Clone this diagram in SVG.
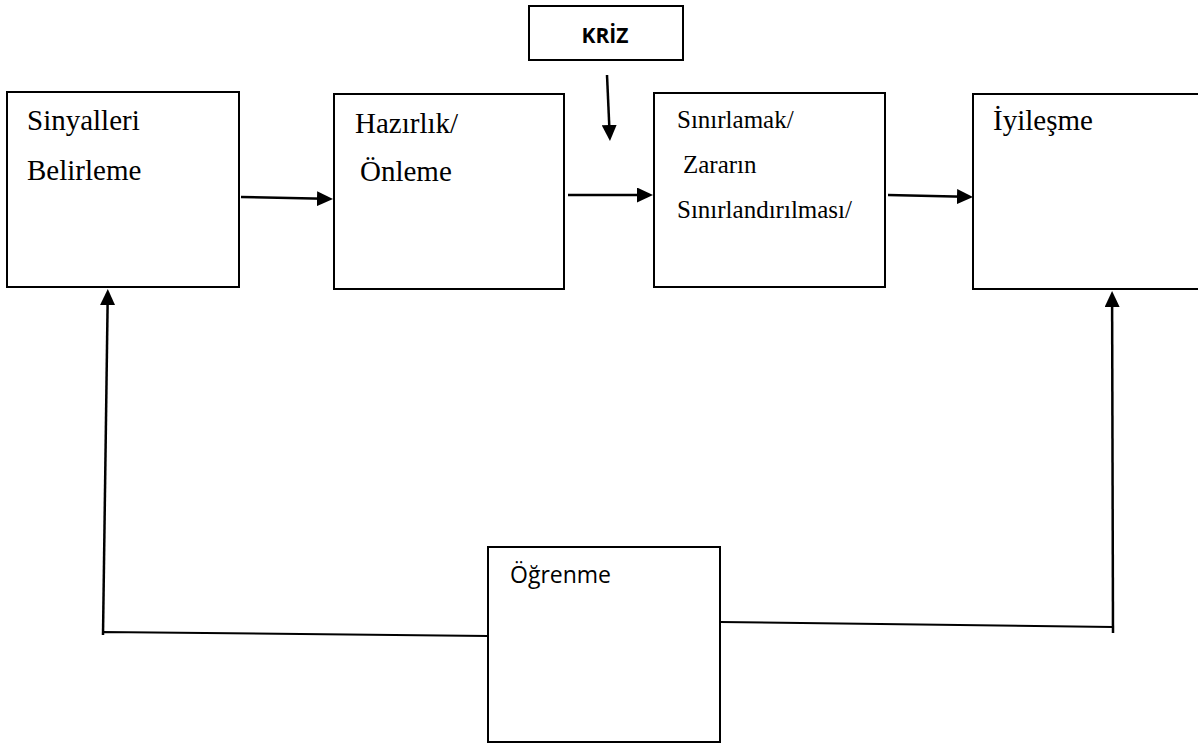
<svg xmlns="http://www.w3.org/2000/svg" width="1198" height="746" viewBox="0 0 1198 746">
<defs>
<style>
.box{fill:#fff;stroke:#000;stroke-width:2}
.serif{font-family:"Liberation Serif","Times New Roman",serif;fill:#000}
.sans{font-family:"Open Sans","Noto Sans","Liberation Sans",sans-serif;fill:#000}
.arr{stroke:#000;stroke-width:2.5;fill:none;marker-end:url(#ah)}
.ln{stroke:#000;stroke-width:2;fill:none}
</style>
<marker id="ah" viewBox="0 0 16 15" markerWidth="16" markerHeight="15" refX="8" refY="7.5" orient="auto" markerUnits="userSpaceOnUse">
<path d="M0,0 L16,7.5 L0,15 Z" fill="#000"/>
</marker>
</defs>
<rect width="1198" height="746" fill="#fff"/>
<g id="connectors">
<line class="arr" x1="241" y1="197" x2="325" y2="198.8"/>
<line class="arr" x1="607" y1="75" x2="609.6" y2="133"/>
<line class="arr" x1="568" y1="195" x2="645" y2="195"/>
<line class="arr" x1="888" y1="195" x2="965" y2="196.8"/>
<polyline class="ln" points="488,636 103,632 103,635"/>
<line class="arr" x1="103" y1="635" x2="107.7" y2="297"/>
<polyline class="ln" points="720,622 1113,627"/>
<line class="arr" x1="1113" y1="633" x2="1112.1" y2="299"/>
</g>
<g id="kriz">
<rect class="box" x="529" y="6" width="154" height="54"/>
<text class="sans" x="605" y="43" font-size="21" font-weight="bold" text-anchor="middle">KRİZ</text>
</g>
<g id="sinyalleri">
<rect class="box" x="7" y="92" width="232" height="195"/>
<text class="serif" x="27" y="130" font-size="29">Sinyalleri</text>
<text class="serif" x="27" y="180" font-size="29">Belirleme</text>
</g>
<g id="hazirlik">
<rect class="box" x="334" y="94" width="230" height="195"/>
<text class="serif" x="355" y="133" font-size="29">Hazırlık/</text>
<text class="serif" x="360" y="181" font-size="29">Önleme</text>
</g>
<g id="sinirlamak">
<rect class="box" x="654" y="93" width="231" height="194"/>
<text class="serif" x="677" y="128" font-size="25">Sınırlamak/</text>
<text class="serif" x="683" y="173" font-size="25">Zararın</text>
<text class="serif" x="677" y="218" font-size="25">Sınırlandırılması/</text>
</g>
<g id="iyilesme">
<rect class="box" x="973" y="94" width="240" height="195"/>
<text class="serif" x="993" y="130" font-size="29">İyileşme</text>
</g>
<g id="ogrenme">
<rect class="box" x="488" y="547" width="232" height="195"/>
<text class="sans" x="510" y="583" font-size="23">Öğrenme</text>
</g>
</svg>
